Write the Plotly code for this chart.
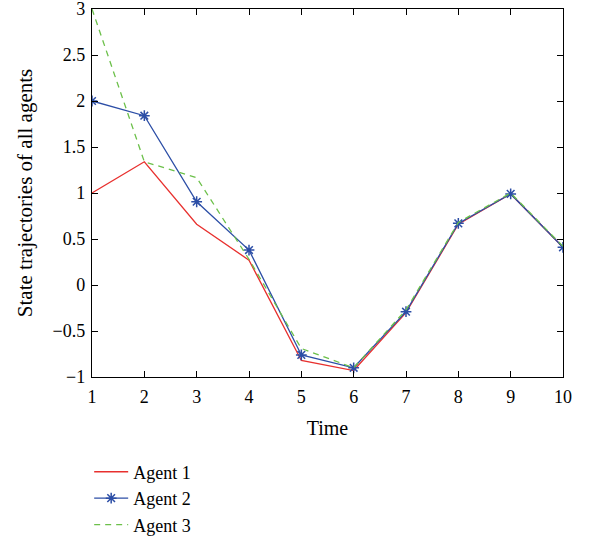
import plotly.graph_objects as go

time = [1, 2, 3, 4, 5, 6, 7, 8, 9, 10]
agent1 = [1.0, 1.34, 0.66, 0.27, -0.82, -0.93, -0.30, 0.66, 0.99, 0.41]
agent2 = [2.0, 1.84, 0.905, 0.38, -0.76, -0.90, -0.29, 0.67, 0.99, 0.41]
agent3 = [3.0, 1.34, 1.166, 0.28, -0.69, -0.90, -0.27, 0.68, 1.0, 0.42]

xticks = list(range(1, 11))
yticks = [-1, -0.5, 0, 0.5, 1, 1.5, 2, 2.5, 3]
yticklabels = ["\u22121", "\u22120.5", "0", "0.5", "1", "1.5", "2", "2.5", "3"]

FONT = "Liberation Serif"

fig = go.Figure()
fig.add_trace(go.Scatter(x=time, y=agent1, mode="lines", name="Agent 1",
                         line=dict(color="#e8302e", width=1.3)))
fig.add_trace(go.Scatter(x=time, y=agent2, mode="lines+markers", name="Agent 2",
                         line=dict(color="#2c4ea6", width=1.3),
                         marker=dict(symbol="asterisk-open", size=9,
                                     line=dict(color="#2c4ea6", width=1.5))))
fig.add_trace(go.Scatter(x=time, y=agent3, mode="lines", name="Agent 3",
                         line=dict(color="#6cc04a", width=1.3, dash="6px,5px")))

axis_common = dict(showgrid=False, zeroline=False, showline=True, linecolor="black",
                   linewidth=1.3, mirror="ticks", ticks="inside", ticklen=6,
                   tickcolor="black", tickwidth=1, ticklabeloverflow="allow",
                   automargin=False,
                   tickfont=dict(family=FONT, size=18, color="black"))

fig.update_layout(
    width=591, height=541,
    margin=dict(l=92, r=28, t=9, b=164, autoexpand=False),
    paper_bgcolor="white", plot_bgcolor="white",
    font=dict(family=FONT, size=18, color="black"),
    xaxis=dict(range=[1, 10], tickvals=xticks, ticklabelstandoff=3,
               title=dict(text="Time", standoff=15,
                          font=dict(family=FONT, size=20)),
               **axis_common),
    yaxis=dict(range=[-1, 3], tickvals=yticks, ticktext=yticklabels,
               ticklabelstandoff=2,
               title=dict(text="State trajectories of all agents", standoff=14,
                          font=dict(family=FONT, size=21)),
               **axis_common),
    legend=dict(x=-0.006, y=-0.208, xanchor="left", yanchor="top",
                font=dict(family=FONT, size=18),
                bgcolor="rgba(0,0,0,0)", tracegroupgap=0, itemwidth=34),
    showlegend=True,
)

fig.write_html("out.html")
